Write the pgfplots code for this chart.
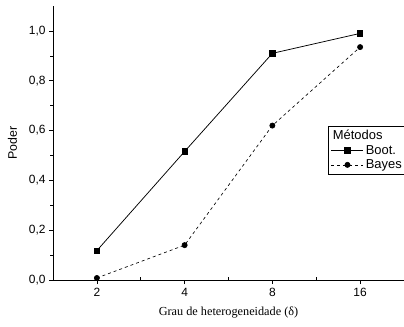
\documentclass[border=0pt]{standalone}
\usepackage{pgfplots}
\pgfplotsset{compat=1.18}
\usepackage{fontspec}
\setmainfont{Liberation Sans}
\newfontfamily\timesfont{Liberation Serif}
\begin{document}
\begin{tikzpicture}
\useasboundingbox (0,0) rectangle (404bp,327bp);
\begin{axis}[
  at={(53bp,47bp)}, anchor=south west,
  scale only axis, width=351bp, height=274bp,
  xmin=0.5, xmax=4.5, ymin=0, ymax=1.1,
  axis lines*=left,
  xtick={1,2,3,4}, xticklabels={2,4,8,16},
  minor xtick={1.5,2.5,3.5,4.5},
  ytick={0,0.2,0.4,0.6,0.8,1.0},
  minor ytick={0.1,0.3,0.5,0.7,0.9},
  tick align=outside,
  major tick length=4bp, minor tick length=3bp,
  minor x tick style={yshift=3bp},
  tick style={black, line width=0.6pt},
  axis line style={line width=0.6pt},
  tick label style={font=\fontsize{12}{14}\selectfont},
  xticklabel style={yshift=-1bp},
  /pgf/number format/assume math mode=true,
  yticklabel style={/pgf/number format/.cd, fixed, fixed zerofill, precision=1, use comma},
  xlabel={\timesfont Grau de heterogeneidade (δ)},
  ylabel={Poder},
  xlabel style={font=\fontsize{12.3}{14}\selectfont, yshift=-3bp},
  ylabel style={font=\fontsize{12.4}{14}\selectfont, yshift=5bp},
  legend style={at={(0.783,0.562)}, anchor=north west, draw=black, line width=0.5pt,
    font=\fontsize{13}{15}\selectfont, inner xsep=3bp, inner ysep=2bp, row sep=0pt,
    legend cell align=left},
  legend image code/.code={%
    \draw[mark repeat=2,mark phase=2] plot coordinates {(0bp,0bp) (16bp,0bp) (32bp,0bp)};},
]
\addlegendimage{empty legend}
\addlegendentry{\makebox[0pt][l]{\hspace*{-33bp}Métodos}}
\addplot[black, line width=0.75pt, mark=square*, mark size=2.6bp, mark options={solid}]
  coordinates {(1,0.118) (2,0.516) (3,0.91) (4,0.99)};
\addlegendentry{Boot.}
\addplot[black, line width=0.65pt, dash pattern=on 3pt off 3pt, mark=*, mark size=2.6bp, mark options={solid}]
  coordinates {(1,0.008) (2,0.14) (3,0.62) (4,0.935)};
\addlegendentry{Bayes}
\end{axis}
\end{tikzpicture}
\end{document}
